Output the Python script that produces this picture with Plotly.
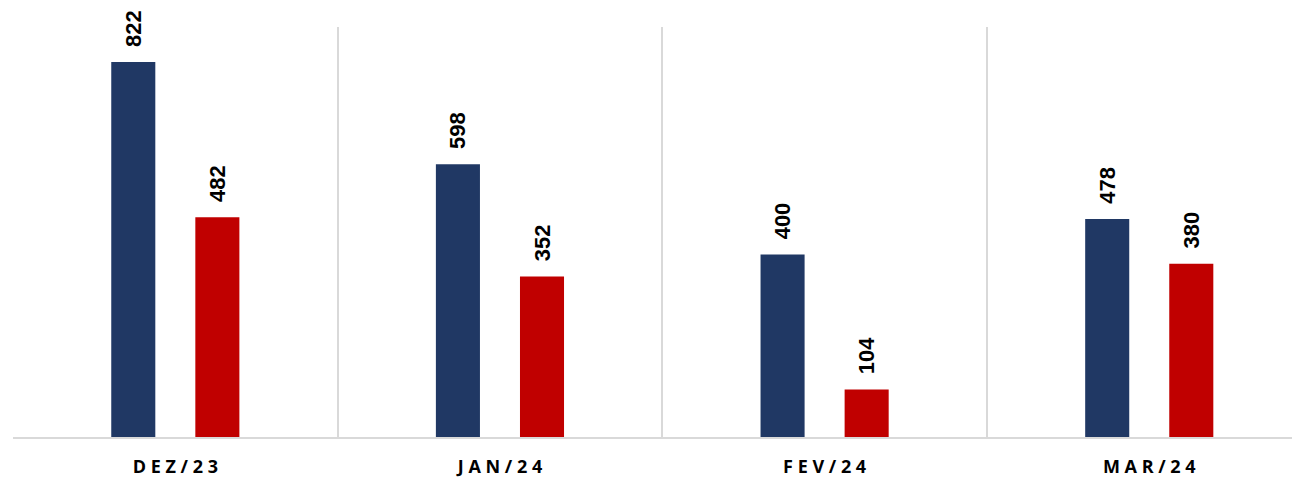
import plotly.graph_objects as go

categories = ["DEZ/23", "JAN/24", "FEV/24", "MAR/24"]
series_a = [822, 598, 400, 478]
series_b = [482, 352, 104, 380]

def spaced(s):
    return " ".join(list(s))

tick_labels = [spaced(c) for c in categories]

fig = go.Figure()
for vals, color in [(series_a, "#203864"), (series_b, "#C00000")]:
    fig.add_trace(go.Bar(
        x=categories, y=vals,
        marker=dict(color=color, line=dict(width=0)),
        text=vals,
        texttemplate="  %{y}",
        textposition="outside",
        textangle=-90,
        constraintext="none",
        cliponaxis=False,
        textfont=dict(family="Liberation Sans", size=22, color="#000000", weight="bold"),
        showlegend=False,
    ))

# the page body adds an 8px offset; margins compensate so the plot area lands at x 13, y 27..437
fig.update_layout(
    width=1300, height=477,
    margin=dict(l=5, r=0, t=19, b=48, autoexpand=False),
    paper_bgcolor="white", plot_bgcolor="white",
    barmode="group", bargap=0.482, bargroupgap=0.476,
    xaxis=dict(
        range=[-0.5, 3.489], automargin=False,
        tickmode="array", tickvals=categories, ticktext=tick_labels,
        tickson="boundaries", ticks="",
        showgrid=True, gridcolor="#D9D9D9", gridwidth=2,
        showline=True, linecolor="#D9D9D9", linewidth=2,
        ticklabelstandoff=12,
        tickfont=dict(family="Open Sans", size=18, color="#000000", weight="bold"),
    ),
    yaxis=dict(
        range=[0, 899], showgrid=False, zeroline=False, automargin=False,
        showticklabels=False, showline=False,
    ),
)

fig.write_html("out.html")
